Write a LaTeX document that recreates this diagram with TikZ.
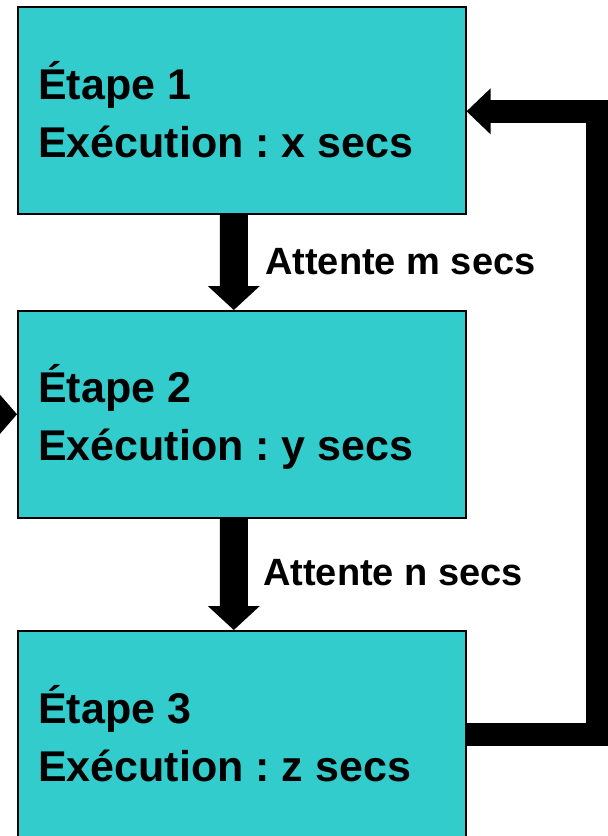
\documentclass[tikz,border=0pt]{standalone}
\usepackage{fontspec}
\setmainfont{Liberation Sans}
\usetikzlibrary{calc}
\definecolor{boxcyan}{HTML}{33CCCC}
\newcommand{\stagefont}{\bfseries\fontsize{43}{50}\selectfont\frenchspacing}
\tikzset{
  x=1pt, y=-1pt,
  stagebox/.style={draw=black, line width=1.6pt, fill=boxcyan, rectangle,
    minimum width=448pt, minimum height=207pt, inner sep=0pt, anchor=north west},
  boxtext/.style={anchor=base west, inner sep=0pt, font=\stagefont},
  waittext/.style={anchor=base west, inner sep=0pt, font=\bfseries\fontsize{38}{46}\selectfont},
  bigarrow/.style={fill=black},
  loopline/.style={draw=black, line width=23pt, line join=miter, line cap=butt},
}
\newcommand{\downarrowshape}[2]{%
  \fill[bigarrow] ([xshift=-14pt]#1) -- ([xshift=14pt]#1)
    -- ([xshift=14pt,yshift=24pt]#2) -- ([xshift=26pt,yshift=24pt]#2)
    -- (#2) -- ([xshift=-26pt,yshift=24pt]#2)
    -- ([xshift=-14pt,yshift=24pt]#2) -- cycle;}
\begin{document}
\begin{tikzpicture}
\useasboundingbox (0,0) rectangle (608,836);
\fill[white] (0,0) rectangle (608,836);
% boxes
\node[stagebox] (b1) at (17,6) {};
\node[stagebox] (b2) at (17,310) {};
\node[stagebox] (b3) at (17,630) {};
% texts
\node[boxtext] (t1a) at (38,99) {Étape 1};
\node[boxtext] (t1b) at (38,157) {Exécution : x secs};
\node[boxtext] (t2a) at (38,402) {Étape 2};
\node[boxtext] (t2b) at (38,460) {Exécution : y secs};
\node[boxtext] (t3a) at (38,723) {Étape 3};
\node[boxtext] (t3b) at (38,781) {Exécution : z secs};
\node[waittext] (w1) at (265,274) {Attente m secs};
\node[waittext] (w2) at (263,585) {Attente n secs};
% down arrows
\coordinate (a1s) at ([xshift=-8pt]b1.south);
\coordinate (a1e) at ([xshift=-8pt]b2.north);
\coordinate (a2s) at ([xshift=-8pt]b2.south);
\coordinate (a2e) at ([xshift=-8pt]b3.north);
\downarrowshape{a1s}{a1e}
\downarrowshape{a2s}{a2e}
% loop from step 3 back to step 1
\coordinate (lr) at (597,0);
\draw[loopline] (b3.east) -- (b3.east -| lr) -- ([yshift=-1pt]b1.east -| lr) -- ([xshift=23pt,yshift=-1pt]b1.east);
\fill[bigarrow] ([yshift=-1pt]b1.east) -- ([xshift=24pt,yshift=22pt]b1.east) -- ([xshift=24pt,yshift=-24pt]b1.east) -- cycle;
% incoming arrow at step 2 (from outside the picture)
\coordinate (lin) at (-40,413);
\draw[loopline] (lin) -- ([xshift=-19pt]b2.west);
\fill[bigarrow] (b2.west) -- ([xshift=-20pt,yshift=23pt]b2.west) -- ([xshift=-20pt,yshift=-23pt]b2.west) -- cycle;
\end{tikzpicture}
\end{document}
